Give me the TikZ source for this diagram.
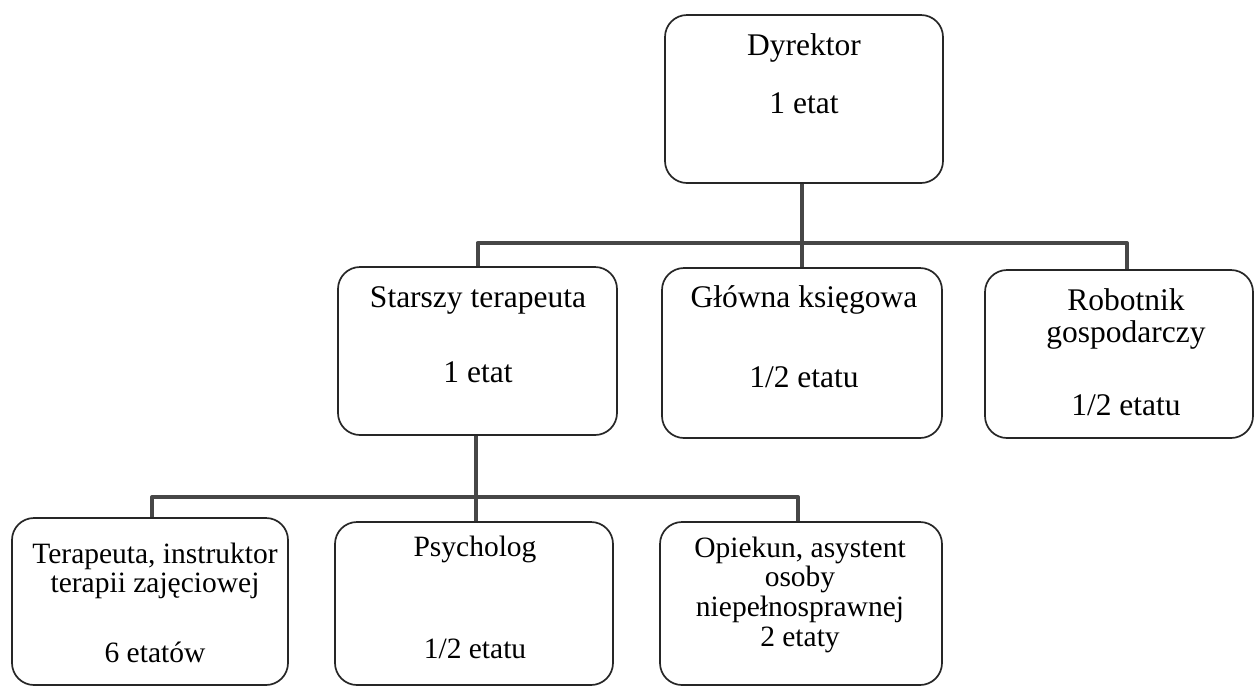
\documentclass[tikz,border=0pt]{standalone}
\usepackage{fontspec}
\setmainfont{Liberation Serif}
\begin{document}
\begin{tikzpicture}[x=0.5pt,y=-0.5pt,line join=round,
	box/.style={draw=black!85,line width=0.85pt,rounded corners=11pt,inner sep=0pt},
	txt/.style={anchor=base,inner sep=0pt,font=\fontsize{15.75}{18}\selectfont},
	txtb/.style={anchor=base,inner sep=0pt,font=\fontsize{14.75}{17}\selectfont},
	conn/.style={draw=black!72,line width=2pt}]
	
	\useasboundingbox (0,0) rectangle (1255,687);
	% ramki
	\node[box,minimum width=139pt,minimum height=84pt] (dyr) at (804,99) {};
	\node[box,minimum width=139.5pt,minimum height=84pt] (sta) at (477.5,351) {};
	\node[box,minimum width=140pt,minimum height=85pt] (glo) at (802,353) {};
	\node[box,minimum width=134pt,minimum height=84pt] (rob) at (1119,354) {};
	\node[box,minimum width=138pt,minimum height=83.5pt] (ter) at (150,601.5) {};
	\node[box,minimum width=139pt,minimum height=81.5pt] (psy) at (474,603.5) {};
	\node[box,minimum width=141pt,minimum height=81.5pt] (opi) at (801,603.5) {};
	% teksty
	\node[txt] (dyr-a) at (804,55) {Dyrektor};
	\node[txt] (dyr-b) at (804,113) {1 etat};
	\node[txt] (sta-a) at (478,307) {Starszy terapeuta};
	\node[txt] (sta-b) at (478,382) {1 etat};
	\node[txt] (glo-a) at (804,307) {Główna księgowa};
	\node[txt] (glo-b) at (804,387) {1/2 etatu};
	\node[txt] (rob-a) at (1126,310) {Robotnik};
	\node[txt] (rob-b) at (1126,342) {gospodarczy};
	\node[txt] (rob-c) at (1126,415) {1/2 etatu};
	\node[txtb] (ter-a) at (155,563) {Terapeuta, instruktor};
	\node[txtb] (ter-b) at (155,592) {terapii zajęciowej};
	\node[txtb] (ter-c) at (155,662) {6 etatów};
	\node[txtb] (psy-a) at (475,556) {Psycholog};
	\node[txtb] (psy-b) at (475,658) {1/2 etatu};
	\node[txtb] (opi-a) at (800,557) {Opiekun, asystent};
	\node[txtb] (opi-b) at (800,586) {osoby};
	\node[txtb] (opi-c) at (800,616) {niepełnosprawnej};
	\node[txtb] (opi-d) at (800,646) {2 etaty};
	% polaczenia
	\coordinate (bar1) at (802,243);
	\coordinate (bar2) at (476,497);
	\draw[conn] (dyr.south -| glo.north) -- (glo.north);
	\draw[conn] (sta.north) |- (bar1) -| ([xshift=4pt]rob.north);
	\draw[conn] (sta.south -| bar2) -- (bar2 |- psy.north);
	\draw[conn] ([xshift=1pt]ter.north) |- (bar2) -| ([xshift=-1.5pt]opi.north);
\end{tikzpicture}
\end{document}
